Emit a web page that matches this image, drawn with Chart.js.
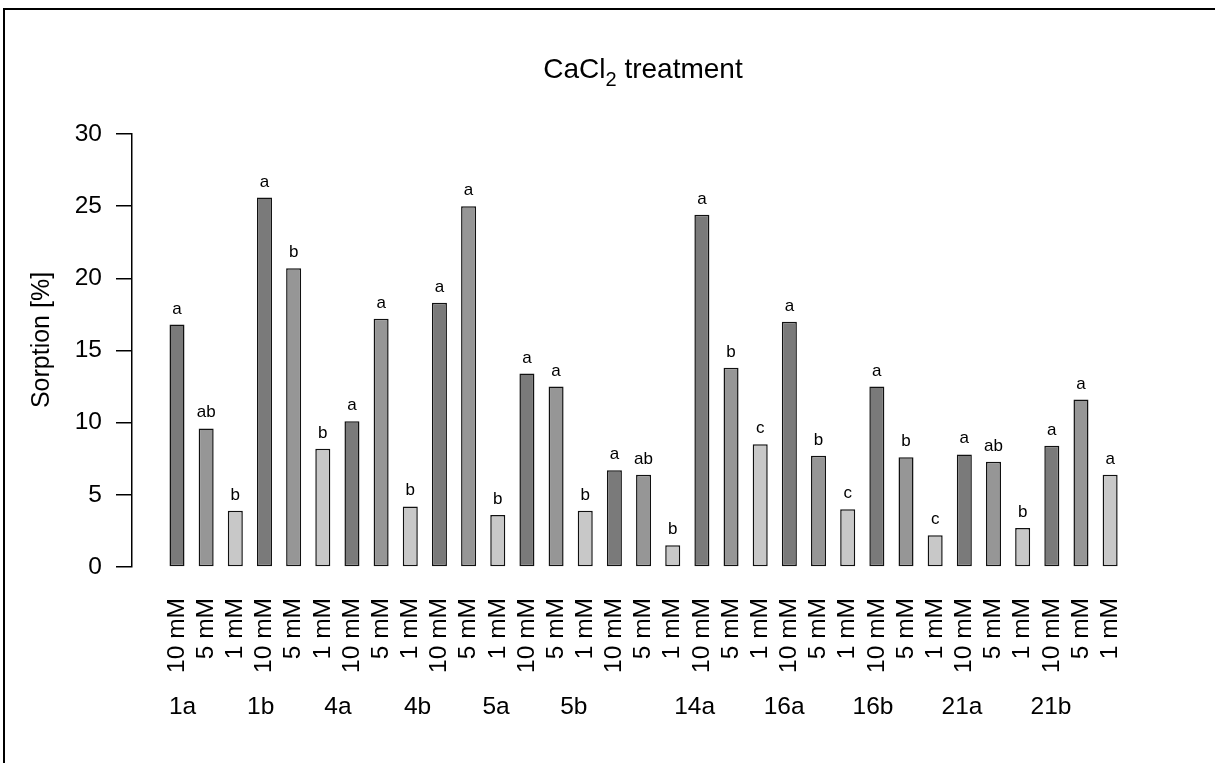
<!DOCTYPE html>
<html>
<head>
<meta charset="utf-8">
<script src="https://cdn.jsdelivr.net/npm/chart.js@4/dist/chart.umd.min.js"></script>
<style>
  html, body { margin: 0; padding: 0; background: #fff; }
  canvas { display: block; }
</style>
</head>
<body>
<canvas id="c" width="1215" height="763"></canvas>
<script>
// soil samples, 3 CaCl2 concentrations each
const groups = ['1a', '1b', '4a', '4b', '5a', '5b', '14a', '16a', '16b', '21a', '21b'];
const doses = ['10 mM', '5 mM', '1 mM'];
// sorption [%] per bar, group by group (10, 5, 1 mM)
const sorption = [
  16.8, 9.6, 3.9,
  25.6, 20.7, 8.2,
  10.1, 17.2, 4.2,
  18.3, 25.0, 3.6,
  13.4, 12.5, 3.9,
  6.7, 6.4, 1.5,
  24.4, 13.8, 8.5,
  17.0, 7.7, 4.0,
  12.5, 7.6, 2.2,
  7.8, 7.3, 2.7,
  8.4, 11.6, 6.4
];
// significance letters above the bars
const letters = [
  'a', 'ab', 'b',
  'a', 'b', 'b',
  'a', 'a', 'b',
  'a', 'a', 'b',
  'a', 'a', 'b',
  'a', 'ab', 'b',
  'a', 'b', 'c',
  'a', 'b', 'c',
  'a', 'b', 'c',
  'a', 'ab', 'b',
  'a', 'a', 'a'
];
const yTicks = [0, 5, 10, 15, 20, 25, 30];

const doseColors = ['#7a7a7a', '#969696', '#c8c8c8'];
// where the sample names sit along the bar axis (bar index units)
const groupLabelAt = [0.19, 2.87, 5.52, 8.25, 10.94, 13.61, 17.75, 20.82, 23.87, 26.92, 29.97];

const FONT = '"Liberation Sans", Arial, Helvetica, sans-serif';

const barLabels = [];
groups.forEach(g => doses.forEach(d => barLabels.push(d)));

//letters over bars, sample names, title, frame
const extras = {
  id: 'extras',
  afterDatasetsDraw(chart) {
    const ctx = chart.ctx;
    const meta = chart.getDatasetMeta(0);
    ctx.save();
    ctx.fillStyle = '#000';
    ctx.textAlign = 'center';
    ctx.textBaseline = 'alphabetic';
    ctx.font = '17px ' + FONT;
    meta.data.forEach((bar, i) => {
      ctx.fillText(letters[i], bar.x, bar.y - 11);
    });

    ctx.font = '24.5px ' + FONT;
    const xs = chart.scales.x;
    groups.forEach((g, i) => {
      ctx.fillText(g, xs.getPixelForValue(groupLabelAt[i]), 714);
    });

    // title with subscript
    const big = '28px ' + FONT, small = '20px ' + FONT;
    ctx.font = big;
    const w1 = ctx.measureText('CaCl').width;
    const w3 = ctx.measureText(' treatment').width;
    ctx.font = small;
    const w2 = ctx.measureText('2').width;
    let x0 = 643 - (w1 + w2 + w3) / 2;
    ctx.textAlign = 'left';
    ctx.font = big;
    ctx.fillText('CaCl', x0, 78);
    ctx.font = small;
    ctx.fillText('2', x0 + w1, 86);
    ctx.font = big;
    ctx.fillText(' treatment', x0 + w1 + w2, 78);

    // y title
    ctx.save();
    ctx.translate(49, 340);
    ctx.rotate(-Math.PI / 2);
    ctx.textAlign = 'center';
    ctx.font = '25px ' + FONT;
    ctx.fillText('Sorption [%]', 0, 0);
    ctx.restore();

    // figure frame
    ctx.strokeStyle = '#000';
    ctx.lineWidth = 2;
    ctx.beginPath();
    ctx.moveTo(4, 800);
    ctx.lineTo(4, 9);
    ctx.lineTo(1220, 9);
    ctx.stroke();
    ctx.restore();
  }
};

new Chart(document.getElementById('c'), {
  type: 'bar',
  data: {
    datasets: [{
      data: sorption.map((v, i) => ({ x: i, y: v })),
      backgroundColor: sorption.map((v, i) => doseColors[i % 3]),
      borderColor: '#111',
      borderWidth: 1.5,
      borderSkipped: false,
      barPercentage: 0.515,
      categoryPercentage: 1
    }]
  },
  options: {
    responsive: false,
    animation: false,
    layout: { padding: { top: 134, right: 55, bottom: 0, left: 0 } },
    plugins: {
      legend: { display: false },
      tooltip: { enabled: false },
      title: { display: false }
    },
    scales: {
      x: {
        type: 'linear',
        min: -1.543,
        max: 33.71,
        offset: false,
        grid: { display: false, drawTicks: false, offset: false },
        border: { display: false },
        afterBuildTicks: s => { s.ticks = barLabels.map((l, i) => ({ value: i })); },
        afterFit: s => {
          s.height = 196;
          s.paddingLeft = 0;
          s.paddingRight = 0;
        },
        ticks: {
          autoSkip: false,
          minRotation: 90,
          maxRotation: 90,
          padding: 31,
          color: '#000',
          font: { family: FONT, size: 24.5 },
          callback: (v, i) => barLabels[i]
        }
      },
      y: {
        min: 0,
        max: 30,
        afterBuildTicks: s => { s.ticks = yTicks.map(v => ({ value: v })); },
        afterFit: s => {
          s.width = 132;
          s.paddingTop = 0;
          s.paddingBottom = 0;
        },
        grid: { drawOnChartArea: false, color: '#000', lineWidth: 1.5, tickLength: 16 },
        border: { display: true, color: '#000', width: 1.5 },
        ticks: {
          padding: 14,
          color: '#000',
          font: { family: FONT, size: 24.5 }
        }
      }
    }
  },
  plugins: [extras]
});
</script>
</body>
</html>
